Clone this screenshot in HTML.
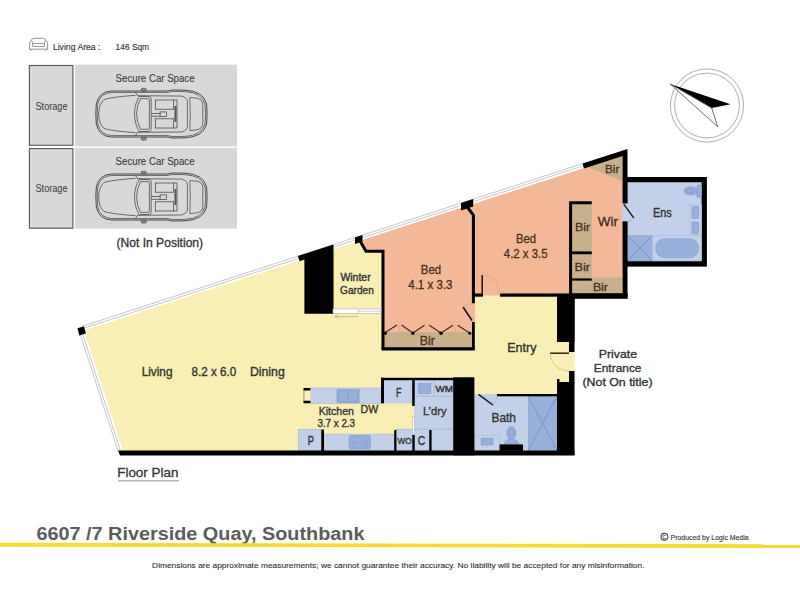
<!DOCTYPE html>
<html><head><meta charset="utf-8">
<style>
html,body{margin:0;padding:0;background:#fff;width:800px;height:600px;overflow:hidden}
svg{display:block}
text{font-family:"Liberation Sans",sans-serif}
.r{fill:#333;stroke:#333;stroke-width:0.35}
.lbl{fill:#44301f;stroke:#44301f;stroke-width:0.3}
</style></head>
<body>
<svg width="800" height="600" viewBox="0 0 800 600">
<rect x="0" y="0" width="800" height="600" fill="#fff"/>

<!-- ===== Living area header ===== -->
<g fill="none" stroke="#8a8a8a" stroke-width="0.9" stroke-linejoin="round">
  <path d="M29.6,49.2 L29.6,43 Q29.6,41.3 31.2,40.8 Q31.6,38.3 33.8,38.3 L43.3,38.3 Q45.5,38.3 45.9,40.8 Q47.6,41.3 47.6,43 L47.6,49.2 Z"/>
  <path d="M31.2,40.8 Q32.6,41 32.6,42.5 L32.6,46.4 L44.5,46.4 L44.5,42.5 Q44.5,41 45.9,40.8"/>
  <path d="M32.6,43.4 L44.5,43.4"/>
  <path d="M31,49.3 L31,50.6 M46.2,49.3 L46.2,50.6" stroke-width="1.2"/>
</g>
<text x="52.9" y="49.8" font-size="9.2" textLength="47.6" lengthAdjust="spacingAndGlyphs" fill="#333" stroke="#333" stroke-width="0.15">Living Area :</text>
<text x="115.6" y="49.8" font-size="9.2" textLength="33.5" lengthAdjust="spacingAndGlyphs" fill="#333" stroke="#333" stroke-width="0.15">146 Sqm</text>

<!-- ===== Car spaces ===== -->
<rect x="74.9" y="64.7" width="162.1" height="81.7" fill="#d8d8d8"/>
<rect x="74.9" y="147.9" width="162.1" height="80.7" fill="#d8d8d8"/>
<rect x="29.35" y="65.5" width="43.55" height="79.75" fill="#d8d8d8" stroke="#555" stroke-width="1.1"/>
<rect x="29.35" y="148.6" width="43.55" height="79.6" fill="#d8d8d8" stroke="#555" stroke-width="1.1"/>
<text x="35.5" y="109.5" font-size="10.3" textLength="32" lengthAdjust="spacingAndGlyphs" fill="#444" stroke="#444" stroke-width="0.1">Storage</text>
<text x="35.5" y="192.3" font-size="10.3" textLength="32" lengthAdjust="spacingAndGlyphs" fill="#444" stroke="#444" stroke-width="0.1">Storage</text>
<text x="115.6" y="82.4" font-size="10.8" textLength="79" lengthAdjust="spacingAndGlyphs" fill="#3c3c3c" stroke="#3c3c3c" stroke-width="0.12">Secure Car Space</text>
<text x="115.6" y="165.4" font-size="10.8" textLength="79" lengthAdjust="spacingAndGlyphs" fill="#3c3c3c" stroke="#3c3c3c" stroke-width="0.12">Secure Car Space</text>

<defs>
<g id="car" fill="none" stroke="#3a3a3a" stroke-width="0.7">
  <path d="M111.5,91 L168,91 Q170,90 174,90 L185,90.2 Q203.5,91 206.6,104 L207.1,114 L206.6,124 Q203.5,137 185,137.8 L174,138 Q170,138 168,137 L111.5,137 Q99,136.5 96.3,124 Q95.3,114 96.3,104 Q99,91.5 111.5,91 Z" stroke-width="0.9"/>
  <path d="M111.8,92.4 L168,92.4 Q170,91.4 174,91.4 L184.8,91.6 Q202,92.4 205.1,104.3 L205.6,114 L205.1,123.7 Q202,135.6 184.8,136.4 L174,136.6 Q170,136.6 168,135.6 L111.8,135.6 Q100.3,135.1 97.7,123.6 Q96.7,114 97.7,104.4 Q100.3,92.9 111.8,92.4 Z"/>
  <path d="M135.5,95.3 Q112,97 104,99.5 Q99,104 98.6,114 Q99,124 104,128.5 Q112,131 135.5,132.7"/>
  <path d="M135.5,92.4 L137.4,95.7 M135.5,135.6 L137.4,132.3"/>
  <path d="M137,95.7 L181.6,96.1 Q187.4,97.5 187.4,102 L187.4,126 Q187.4,130.5 181.6,132 L137,132.3"/>
  <path d="M189.8,97.6 Q190.8,114 189.8,130.6"/>
  <path d="M189.8,97.6 L197,98.2 Q202.8,99.5 202.8,104.5 L202.8,123.5 Q202.8,128.5 197,129.8 L189.8,130.6"/>
  <path d="M139.3,96.4 L149,96.6 Q151.2,96.8 151.2,99 L151.2,129 Q151.2,131.2 149,131.4 L139.3,131.6 Q134.5,124 134.5,114 Q134.5,104 139.3,96.4 Z"/>
  <path d="M140.6,98.6 L148.2,98.8 Q149.4,98.9 149.4,100.2 L149.4,127.8 Q149.4,129.1 148.2,129.2 L140.6,129.4 Q136.6,122.5 136.6,114 Q136.6,105.5 140.6,98.6 Z"/>
  <rect x="155.3" y="100" width="18.4" height="9.2"/>
  <rect x="155.3" y="118.8" width="18.4" height="9.2"/>
  <path d="M173.7,100 L177,100 L177,128 L173.7,128"/>
  <rect x="174.5" y="106" width="2" height="16" fill="#555" stroke="none"/>
  <path d="M151.3,113.5 L160.1,113.5 M151.3,116.3 L160.1,116.3"/>
  <rect x="160.1" y="111.9" width="6.3" height="4.5"/>
  <rect x="141.3" y="88.4" width="4.8" height="2.8" rx="0.8" stroke-width="0.6" fill="#888"/>
  <rect x="141.3" y="137" width="4.8" height="3.1" rx="0.8" stroke-width="0.6" fill="#888"/>
</g>
</defs>
<use href="#car"/>
<use href="#car" y="83"/>
<text x="116.5" y="247.25" font-size="11.9" textLength="86.6" lengthAdjust="spacingAndGlyphs" fill="#333" stroke="#333" stroke-width="0.3">(Not In Position)</text>

<!-- ===== Compass ===== -->
<g fill="none" stroke="#9a9a9a" stroke-width="0.8">
  <circle cx="707" cy="105.5" r="36.6"/>
  <circle cx="707" cy="105.5" r="32.4"/>
</g>
<path d="M670.2,84 L730.5,104.2 L711.7,108 Z" fill="#000"/>
<path d="M670.2,84 L711.7,108 L717.7,126.7 Z" fill="#fff" stroke="#333" stroke-width="0.7" stroke-linejoin="miter"/>

<!-- FLOORPLAN -->
<g id="plan">
<!-- base yellow -->
<polygon points="85.5,330.0 582.5,168.5 622.6,155.5 622.6,296 574.5,296 574.5,451 123,451 85.5,335" fill="#f9efb4"/>
<!-- Bed 1 salmon -->
<polygon points="361.5,240.3 473,204.1 473,348.9 383,348.9 383,251.2 366,251.2" fill="#f2b898"/>
<!-- Bed 2 salmon -->
<polygon points="473,204.1 582.5,168.5 622.6,155.5 622.6,295.5 473,295.5" fill="#f2b898"/>
<!-- tan closets -->
<polygon points="587.5,166.9 622.6,155.5 622.6,181.25" fill="#c8b08c"/>
<rect x="571" y="203" width="20.75" height="49" fill="#c8b08c"/>
<rect x="571" y="253" width="20.75" height="26" fill="#c8b08c"/>
<polygon points="571,278.5 591.75,278.5 591.75,277.4 622.6,277.4 622.6,295 571,295" fill="#c8b08c"/>
<rect x="383" y="332" width="90" height="17" fill="#c8b08c"/>

<!-- Ens -->
<rect x="622.9" y="177" width="84" height="89.6" fill="#000"/>
<rect x="627.25" y="182.25" width="74.35" height="78.75" fill="#c2d0e9"/>
<rect x="622" y="203.25" width="6" height="18.35" fill="#c2d0e9"/>
<rect x="627.25" y="235.6" width="25.35" height="25.4" fill="#98b1dc" stroke="#8aa4cf" stroke-width="0.6"/>
<path d="M627.25,235.6 L652.6,261 M652.6,235.6 L627.25,261" stroke="#6d89bd" stroke-width="0.7"/>
<rect x="652.6" y="235.6" width="49" height="25.4" fill="#c2d0e9" stroke="#a9bde0" stroke-width="0.6"/>
<rect x="655.6" y="238.6" width="43" height="19.25" rx="9" fill="#98b1dc" stroke="#8aa4cf" stroke-width="0.6"/>
<rect x="689.9" y="204.65" width="11.7" height="30.1" fill="#c2d0e9" stroke="#a9bde0" stroke-width="0.6"/>
<rect x="692" y="206.75" width="6.65" height="11.9" fill="#98b1dc" stroke="#7f98c6" stroke-width="0.6"/>
<rect x="692" y="222.15" width="6.65" height="11.2" fill="#98b1dc" stroke="#7f98c6" stroke-width="0.6"/>
<rect x="697" y="185.2" width="4.4" height="11.9" rx="1.2" fill="#98b1dc" stroke="#7b93c0" stroke-width="0.7"/>
<rect x="694" y="189" width="3.5" height="4" fill="#98b1dc" stroke="#7b93c0" stroke-width="0.6"/>
<ellipse cx="690.7" cy="190.9" rx="6.5" ry="4" fill="#98b1dc" stroke="#7b93c0" stroke-width="0.7"/>
<ellipse cx="690.4" cy="190.9" rx="3.9" ry="2" fill="none" stroke="#7b93c0" stroke-width="0.6"/>
<!-- Ens door -->
<path d="M623.75,204.1 L633.9,218.1" stroke="#111" stroke-width="1.3"/>
<path d="M633.9,218.1 Q632,221.6 627,221.6" fill="none" stroke="#b5a592" stroke-width="0.5"/>

<!-- Bath/laundry blue -->
<rect x="474.4" y="394" width="83" height="57" fill="#c2d0e9"/>
<rect x="528.3" y="396.3" width="28.7" height="54.2" fill="#98b1dc" stroke="#8aa4cf" stroke-width="0.6"/>
<path d="M528.3,396.3 L557,450.5 M557,396.3 L528.3,450.5" stroke="#6d89bd" stroke-width="0.7"/>
<rect x="474.4" y="435.5" width="25.2" height="15" fill="#c2d0e9" stroke="#a9bde0" stroke-width="0.6"/>
<rect x="481.2" y="438.2" width="11.8" height="6.8" fill="#98b1dc" stroke="#7f98c6" stroke-width="0.6"/>
<ellipse cx="511.4" cy="433" rx="4.6" ry="6.4" fill="#98b1dc" stroke="#7f98c6" stroke-width="0.6"/>
<ellipse cx="511.4" cy="432.4" rx="2.6" ry="4" fill="none" stroke="#7f98c6" stroke-width="0.6"/>
<path d="M504,444.4 Q505,439 511.4,439 Q517.8,439 519,444.4 Z" fill="#98b1dc" stroke="#7f98c6" stroke-width="0.6"/>
<rect x="499.6" y="444.4" width="23.4" height="6.5" fill="#000"/>

<!-- Laundry -->
<rect x="414" y="380" width="40" height="71" fill="#c2d0e9"/>
<path d="M414.7,396.3 L453.7,396.3 M434.3,380 L434.3,396.3 M414.7,429.2 L453.7,429.2" stroke="#a3b3cf" stroke-width="0.7"/>
<rect x="418.2" y="383.5" width="12.6" height="10" fill="#98b1dc" stroke="#7f98c6" stroke-width="0.6"/>
<!-- F -->
<rect x="383" y="380" width="31" height="23.5" fill="#c2d0e9"/>
<!-- WO -->
<rect x="396" y="429.2" width="18" height="22" fill="#c2d0e9" stroke="#a3b3cf" stroke-width="0.6"/>
<!-- bottom bench -->
<rect x="324" y="434.2" width="72" height="17" fill="#c2d0e9" stroke="#a3b3cf" stroke-width="0.6"/>
<rect x="349" y="435.5" width="21.5" height="13.5" rx="2" fill="#98b1dc" stroke="#7f98c6" stroke-width="0.6"/>
<g fill="none" stroke="#7f9acb" stroke-width="0.55">
<circle cx="354.3" cy="439.4" r="2.6"/><circle cx="365.3" cy="439.4" r="2.6"/>
<circle cx="354.3" cy="445" r="2.6"/><circle cx="365.3" cy="445" r="2.6"/>
<circle cx="359.8" cy="442.2" r="1.4"/>
</g>
<!-- pantry -->
<rect x="298.5" y="429.5" width="23" height="21.5" fill="#c2d0e9" stroke="#a3b3cf" stroke-width="0.6"/>
<!-- island -->
<rect x="310.5" y="388" width="71" height="15.3" fill="#c2d0e9" stroke="#a3b3cf" stroke-width="0.6"/>
<rect x="337" y="389.6" width="22.1" height="13" fill="#98b1dc" stroke="#7f98c6" stroke-width="0.6"/>
<rect x="338.6" y="391" width="9.3" height="10.2" fill="#98b1dc" stroke="#7f9acb" stroke-width="0.5"/>
<rect x="348.4" y="391" width="9.3" height="10.2" fill="#98b1dc" stroke="#7f9acb" stroke-width="0.5"/>
<rect x="303.5" y="388" width="7" height="15.3" fill="#f9efb4"/>
<path d="M303.9,389 L303.9,402.3" stroke="#555" stroke-width="0.6"/>
<rect x="303.5" y="388" width="7" height="2.5" rx="0.8" fill="#000"/>
<rect x="303.5" y="400.8" width="7" height="2.5" rx="0.8" fill="#000"/>

<!-- windows top diagonal -->
<g stroke="#b4b4b4" stroke-width="0.75" fill="none">
<path d="M83,326.0 L582.5,163.6"/>
<path d="M84,328.2 L582.5,166.1"/>
<!-- left window -->
<path d="M80.5,335 L118,451"/>
<path d="M83,335 L120.5,451"/>
</g>

<!-- ===== walls ===== -->
<g fill="#000">
<!-- bottom wall -->
<polygon points="118,450.6 574.5,450.6 574.5,455.5 120,455.5"/>
<!-- left post -->
<polygon points="77.5,328.3 84,326.2 85.8,333.5 79.3,335.6"/>
<!-- column with band -->
<polygon points="298,256.0 333.5,244.4 333.5,313.75 304.4,313.75 304.4,259.6 299.6,261.2"/>
<!-- post 1 -->
<polygon points="355,237.45 362.5,235.0 362.5,241.5 355,244"/>
<!-- post 2 -->
<polygon points="461,203 473.2,199 473.2,206.5 461,210.5"/>
<!-- top thick wall & right wall of Bed 2 -->
<polygon points="582.5,163.5 627.5,148.9 627.5,203.25 622.6,203.25 622.6,156 584,168.5"/>
<rect x="622.6" y="221.6" width="4.9" height="75"/>
<!-- Bed 2 bottom wall -->
<rect x="472" y="293.5" width="11" height="3.2"/>
<rect x="500" y="293.5" width="127.5" height="3.2"/>
<rect x="569" y="293.4" width="58.6" height="5.4"/>
<!-- entry right block -->
<rect x="557" y="296" width="17.5" height="46"/>
<rect x="569" y="296" width="5.5" height="56"/>
<rect x="569" y="371" width="5.5" height="12"/>
<rect x="557" y="382" width="17.5" height="73"/>
<rect x="557" y="379" width="2.5" height="4"/>
<!-- black column bath/laundry -->
<rect x="453.2" y="377.3" width="21.2" height="78"/>
<!-- bath top wall -->
<rect x="497" y="394" width="60" height="2.3"/>
<!-- F/laundry walls -->
<rect x="381" y="377.8" width="73" height="2.4"/>
<rect x="381" y="377.8" width="3" height="25.5"/>
<rect x="412.2" y="380" width="2.5" height="26"/>
<rect x="394.2" y="430" width="2.2" height="21"/>
<rect x="412.3" y="434.9" width="2.4" height="16"/>
<rect x="429.2" y="430" width="2.4" height="21"/>
<rect x="321.3" y="429.5" width="2.7" height="21.5"/>
</g>
<!-- interior thin walls -->
<g fill="none" stroke="#000" stroke-linejoin="miter">
<path d="M359.5,240 L366,251.2 L383,251.2 L383,349" stroke-width="3"/>
<path d="M381.5,348.9 L474.6,348.9" stroke-width="3.2"/>
<path d="M467.2,207 L473.4,215.2 L473.4,303.5" stroke-width="3"/>
<path d="M473.4,322 L473.4,350" stroke-width="2.8"/>
<path d="M591.75,202.7 L570.6,202.7 L570.6,294.5" stroke-width="3"/>
<path d="M569,252.8 L591.75,252.8" stroke-width="2.8"/>
<path d="M569,279.5 L591.75,279.5" stroke-width="2.2"/>
</g>
<!-- Bed 2 door -->
<path d="M482.2,275 L482.2,295" stroke="#2a1a10" stroke-width="1.6"/>
<path d="M482.2,275 A18,20 0 0 1 500.2,295" fill="none" stroke="#c9a08a" stroke-width="0.6"/>
<!-- Bed 1 door -->
<rect x="471.8" y="303.5" width="3.2" height="18.5" fill="#f2b898"/>
<path d="M463,307 L472,320.5" stroke="#111" stroke-width="1.5"/>
<path d="M463,307 Q467,303.5 472,303.5" fill="none" stroke="#c9a08a" stroke-width="0.6"/>
<!-- wardrobe bifold doors -->
<g stroke="#3a2a20" stroke-width="1.1" fill="none">
<path d="M385,332.5 L397,325 M401.5,325 L412.8,333 L424.5,325.3 M429.2,325.3 L441,333 L453,325.3 M457.6,325.3 L469.7,333"/>
</g>
<path d="M399.2,325 L399.2,332 M427,325.3 L427,332 M455.3,325.3 L455.3,332" stroke="#e0a88a" stroke-width="0.8"/>
<g fill="#000"><circle cx="412.9" cy="333.2" r="1.7"/><circle cx="441" cy="333.2" r="1.7"/><circle cx="385.4" cy="333.2" r="1.5"/><circle cx="469.8" cy="333.2" r="1.5"/></g>
<!-- entry door -->
<path d="M550,353.2 L569,353.2" stroke="#3a3020" stroke-width="1.6"/>
<path d="M550,353.2 A19,18 0 0 0 569,371" fill="none" stroke="#b8ab7a" stroke-width="0.6"/>
<!-- bath door -->
<path d="M478.4,394.4 L493,405" stroke="#111" stroke-width="1.4"/>
<path d="M493,405 Q497,401 497,396" fill="none" stroke="#9fb0cc" stroke-width="0.6"/>
<!-- winter garden sliding -->
<rect x="333" y="308.9" width="48" height="4.6" fill="#fff" stroke="#b0b0b0" stroke-width="0.6"/>
<path d="M358,308.9 L358,313.5 M358,311.2 L381,311.2" stroke="#b0b0b0" stroke-width="0.6"/>
<path d="M335,316.6 L358,316.6 M335,316.6 L337.5,315.4 M335,316.6 L337.5,317.8" stroke="#a09a80" stroke-width="0.6" fill="none"/>
<!-- laundry sliding -->
<rect x="412.5" y="416.5" width="1.8" height="18" fill="#fff" stroke="#aaa" stroke-width="0.5"/>

<!-- ===== labels ===== -->
<text class="r" x="141.7" y="376.25" font-size="11.9" textLength="30.8" lengthAdjust="spacingAndGlyphs">Living</text>
<text class="r" x="191.6" y="376.25" font-size="11.9" textLength="44.6" lengthAdjust="spacingAndGlyphs">8.2 x 6.0</text>
<text class="r" x="250" y="376.25" font-size="11.9" textLength="34.7" lengthAdjust="spacingAndGlyphs">Dining</text>
<text class="r" x="340.4" y="281" font-size="10.1" textLength="30.3" lengthAdjust="spacingAndGlyphs">Winter</text>
<text class="r" x="340.1" y="294.2" font-size="10.1" textLength="33.7" lengthAdjust="spacingAndGlyphs">Garden</text>
<text x="420.85" y="274.1" font-size="12" textLength="20.25" lengthAdjust="spacingAndGlyphs" class="lbl">Bed</text>
<text x="408.25" y="288.9" font-size="12" textLength="44.25" lengthAdjust="spacingAndGlyphs" class="lbl">4.1 x 3.3</text>
<text x="516" y="243.4" font-size="12" textLength="20.1" lengthAdjust="spacingAndGlyphs" class="lbl">Bed</text>
<text x="503.85" y="258.2" font-size="12" textLength="43.65" lengthAdjust="spacingAndGlyphs" class="lbl">4.2 x 3.5</text>
<text x="419.7" y="344.8" font-size="12" textLength="15.1" lengthAdjust="spacingAndGlyphs" class="lbl">Bir</text>
<text x="605" y="172.75" font-size="11.6" textLength="14.4" lengthAdjust="spacingAndGlyphs" class="lbl">Bir</text>
<text x="574.9" y="230.6" font-size="11.6" textLength="15.2" lengthAdjust="spacingAndGlyphs" class="lbl">Bir</text>
<text x="574.5" y="270.75" font-size="11.6" textLength="15.4" lengthAdjust="spacingAndGlyphs" class="lbl">Bir</text>
<text x="592.9" y="290.6" font-size="11.6" textLength="15" lengthAdjust="spacingAndGlyphs" class="lbl">Bir</text>
<text x="597.75" y="226.35" font-size="12.2" textLength="20.25" lengthAdjust="spacingAndGlyphs" class="lbl">Wir</text>
<text class="r" x="653" y="217" font-size="12.5" textLength="18.75" lengthAdjust="spacingAndGlyphs">Ens</text>
<text class="r" x="507.2" y="351.9" font-size="12.2" textLength="29.25" lengthAdjust="spacingAndGlyphs">Entry</text>
<text class="r" x="491.5" y="421.5" font-size="12.8" textLength="24.5" lengthAdjust="spacingAndGlyphs">Bath</text>
<text class="r" x="598.8" y="357.8" font-size="11.8" textLength="38.2" lengthAdjust="spacingAndGlyphs">Private</text>
<text class="r" x="593.8" y="371.6" font-size="11.8" textLength="47.7" lengthAdjust="spacingAndGlyphs">Entrance</text>
<text class="r" x="582.5" y="385.8" font-size="11.8" textLength="70" lengthAdjust="spacingAndGlyphs">(Not On title)</text>
<text class="r" x="318.7" y="414.8" font-size="10.9" textLength="35.2" lengthAdjust="spacingAndGlyphs">Kitchen</text>
<text class="r" x="317.45" y="427.4" font-size="10.6" textLength="37.6" lengthAdjust="spacingAndGlyphs">3.7 x 2.3</text>
<text class="r" x="360.6" y="412.5" font-size="10.6" textLength="17.7" lengthAdjust="spacingAndGlyphs">DW</text>
<text class="r" x="396" y="396.5" font-size="11.9" textLength="5.5" lengthAdjust="spacingAndGlyphs">F</text>
<text class="r" x="435.5" y="391.5" font-size="8.4" textLength="17.5" lengthAdjust="spacingAndGlyphs">WM</text>
<text class="r" x="423" y="414.5" font-size="11.2" textLength="23.5" lengthAdjust="spacingAndGlyphs">L’dry</text>
<text class="r" x="307.8" y="444.5" font-size="11.9" textLength="6.2" lengthAdjust="spacingAndGlyphs">P</text>
<text class="r" x="397.4" y="444.1" font-size="9.6" textLength="14.2" lengthAdjust="spacingAndGlyphs">WO</text>
<text class="r" x="417.8" y="445" font-size="12.2" textLength="7.6" lengthAdjust="spacingAndGlyphs">C</text>
</g>


<!-- ===== Footer ===== -->
<text x="117.2" y="476.8" font-size="13.6" textLength="61.3" lengthAdjust="spacingAndGlyphs" fill="#333" stroke="#333" stroke-width="0.3">Floor Plan</text>
<rect x="118" y="480.3" width="61" height="1.1" fill="#9a9a9a"/>
<text x="36.4" y="539.65" font-size="18.8" font-weight="bold" textLength="328.1" lengthAdjust="spacingAndGlyphs" fill="#5c5c5c">6607 /7 Riverside Quay, Southbank</text>
<polygon points="0,542.7 800,544.2 800,548 0,546.7" fill="#f2dd30"/>
<circle cx="664.4" cy="536.75" r="3.4" fill="none" stroke="#444" stroke-width="1.1"/>
<text x="662.3" y="539.2" font-size="5" font-weight="bold" fill="#444">C</text>
<text x="670.6" y="539.5" font-size="7.4" textLength="78" lengthAdjust="spacingAndGlyphs" fill="#3a3a3a" stroke="#3a3a3a" stroke-width="0.15">Produced by Logic Media</text>
<text x="152.1" y="568.4" font-size="7.8" textLength="492.4" lengthAdjust="spacingAndGlyphs" fill="#2e2e2e" stroke="#2e2e2e" stroke-width="0.1">Dimensions are approximate measurements; we cannot guarantee their accuracy. No liability will be accepted for any misinformation.</text>
</svg>
</body></html>
